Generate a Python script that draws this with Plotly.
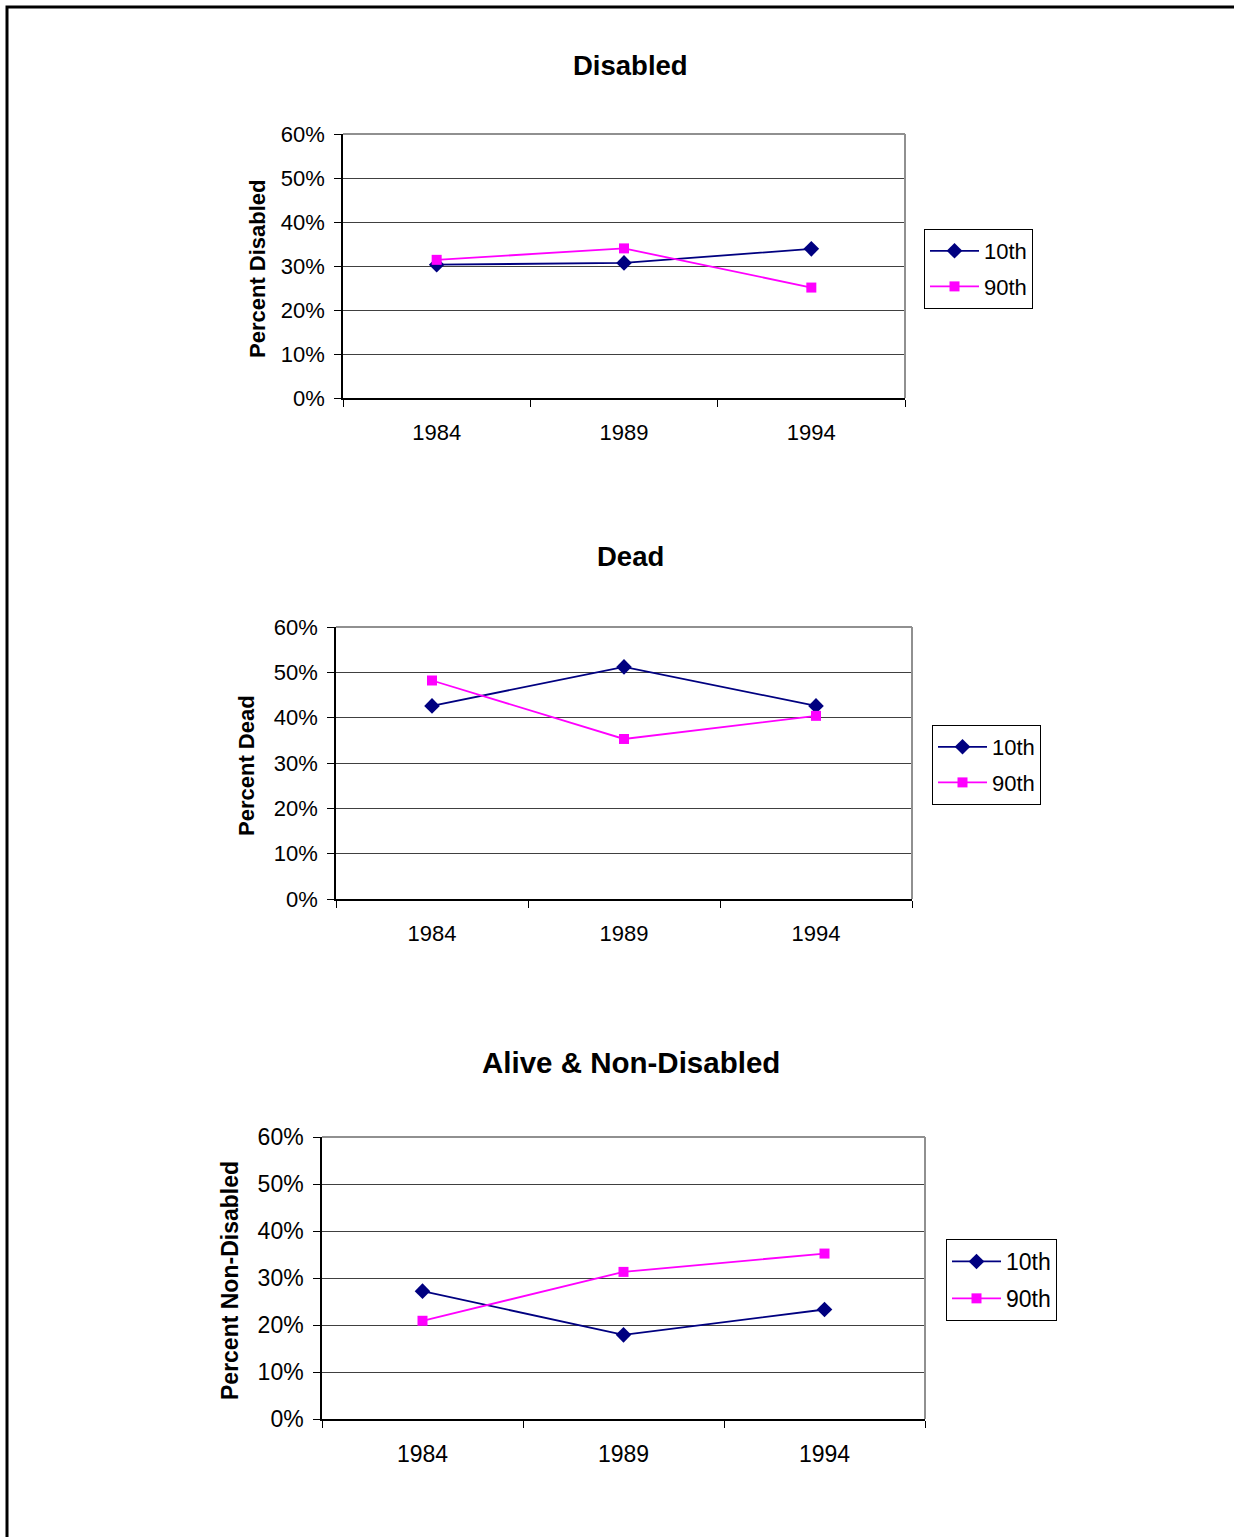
import plotly.graph_objects as go

W, H = 1234, 1537

years = ["1984", "1989", "1994"]
series_names = ["10th", "90th"]

disabled_10th = [0.303, 0.307, 0.339]
disabled_90th = [0.314, 0.340, 0.251]
dead_10th = [0.426, 0.512, 0.426]
dead_90th = [0.482, 0.353, 0.404]
alive_10th = [0.272, 0.179, 0.233]
alive_90th = [0.209, 0.313, 0.352]

y_ticks = [0, 0.1, 0.2, 0.3, 0.4, 0.5, 0.6]
y_tick_labels = ["0%", "10%", "20%", "30%", "40%", "50%", "60%"]

titles = ["Disabled", "Dead", "Alive & Non-Disabled"]
y_titles = ["Percent Disabled", "Percent Dead", "Percent Non-Disabled"]

NAVY = "#000080"
MAGENTA = "#FF00FF"
FONT = "Liberation Sans, Arial, sans-serif"


def px_x(p):
    return p / W


def px_y(p):
    return 1 - p / H


# pixel layout: plot box (x0, x1, ytop, ybottom), title y, ytitle x, legend (x, y), font sizes
panels = [
    dict(data=(disabled_10th, disabled_90th), box=(343, 905, 134, 398), title_y=66,
         ytitle_x=257, legend=(924, 229), fs=22, tfs=27.5, lfs=22, yfs=22),
    dict(data=(dead_10th, dead_90th), box=(336, 912, 627, 899), title_y=556,
         ytitle_x=247, legend=(932, 725), fs=22, tfs=27.5, lfs=22, yfs=22),
    dict(data=(alive_10th, alive_90th), box=(322, 925, 1137, 1419), title_y=1062,
         ytitle_x=230, legend=(946, 1239), fs=23, tfs=29.5, lfs=23, yfs=23),
]

fig = go.Figure()
annotations = []
shapes = []
layout_axes = {}

for i, p in enumerate(panels):
    k = "" if i == 0 else str(i + 1)
    xa, ya = "x" + k, "y" + k
    leg = "legend" + k
    v10, v90 = p["data"]
    fig.add_trace(go.Scatter(
        x=years, y=v10, name=series_names[0], mode="lines+markers",
        line=dict(color=NAVY, width=1.8),
        marker=dict(symbol="diamond", size=12, color=NAVY),
        xaxis=xa, yaxis=ya, legend=leg, legendgroup=f"a{i}"))
    fig.add_trace(go.Scatter(
        x=years, y=v90, name=series_names[1], mode="lines+markers",
        line=dict(color=MAGENTA, width=1.8),
        marker=dict(symbol="square", size=10, color=MAGENTA),
        xaxis=xa, yaxis=ya, legend=leg, legendgroup=f"b{i}"))

    x0, x1, yt, yb = p["box"]
    layout_axes["xaxis" + k] = dict(
        domain=[px_x(x0), px_x(x1)], anchor=ya, type="category",
        range=[-0.5, 2.5], tickson="boundaries", ticks="outside", ticklen=7,
        tickcolor="black", showline=True, linecolor="black", linewidth=1.5,
        showgrid=False, zeroline=False, ticklabelstandoff=14, automargin=False,
        tickfont=dict(family=FONT, size=p["fs"], color="black"), fixedrange=True)
    layout_axes["yaxis" + k] = dict(
        domain=[px_y(yb), px_y(yt)], anchor=xa, range=[0, 0.6],
        tickvals=y_ticks, ticktext=y_tick_labels, ticks="outside", ticklen=7,
        tickcolor="black", showline=True, linecolor="black", linewidth=1.5,
        showgrid=True, gridcolor="#404040", gridwidth=1, zeroline=False,
        ticklabelstandoff=5, automargin=False,
        tickfont=dict(family=FONT, size=p["fs"], color="black"), fixedrange=True)
    layout_axes[leg] = dict(
        x=px_x(p["legend"][0]), y=px_y(p["legend"][1]), xanchor="left", yanchor="top",
        bordercolor="black", borderwidth=1, bgcolor="white",
        font=dict(family=FONT, size=p["lfs"], color="black"),
        tracegroupgap=4, itemwidth=49)

    annotations.append(dict(
        text="<b>%s</b>" % titles[i], x=0.511, y=px_y(p["title_y"]), xref="paper", yref="paper",
        xanchor="center", yanchor="middle", showarrow=False,
        font=dict(family=FONT, size=p["tfs"], color="black")))
    annotations.append(dict(
        text="<b>%s</b>" % y_titles[i], x=px_x(p["ytitle_x"]), y=px_y((yt + yb) / 2 + 3),
        xref="paper", yref="paper", xanchor="center", yanchor="middle", textangle=-90,
        showarrow=False, font=dict(family=FONT, size=p["yfs"], color="black")))

    # gray plot-area border (top and right edges)
    shapes.append(dict(type="line", xref=xa + " domain", yref=ya + " domain",
                       x0=0, x1=1, y0=1, y1=1, line=dict(color="#909090", width=2), layer="above"))
    shapes.append(dict(type="line", xref=xa + " domain", yref=ya + " domain",
                       x0=1, x1=1, y0=0, y1=1, line=dict(color="#909090", width=2), layer="above"))

# page frame (left and top edges)
shapes.append(dict(type="path", xref="paper", yref="paper",
                   path=f"M {px_x(7)},{px_y(H + 20)} L {px_x(7)},{px_y(7)} L {px_x(W + 20)},{px_y(7)}",
                   line=dict(color="black", width=3)))

fig.update_layout(
    width=W, height=H, margin=dict(l=0, r=0, t=0, b=0, pad=0, autoexpand=False),
    paper_bgcolor="white", plot_bgcolor="white",
    annotations=annotations, shapes=shapes, showlegend=True,
    font=dict(family=FONT, color="black"),
    **layout_axes)

fig.write_html("out.html", config={"displayModeBar": False},
               post_script="document.body.style.margin='0';")
